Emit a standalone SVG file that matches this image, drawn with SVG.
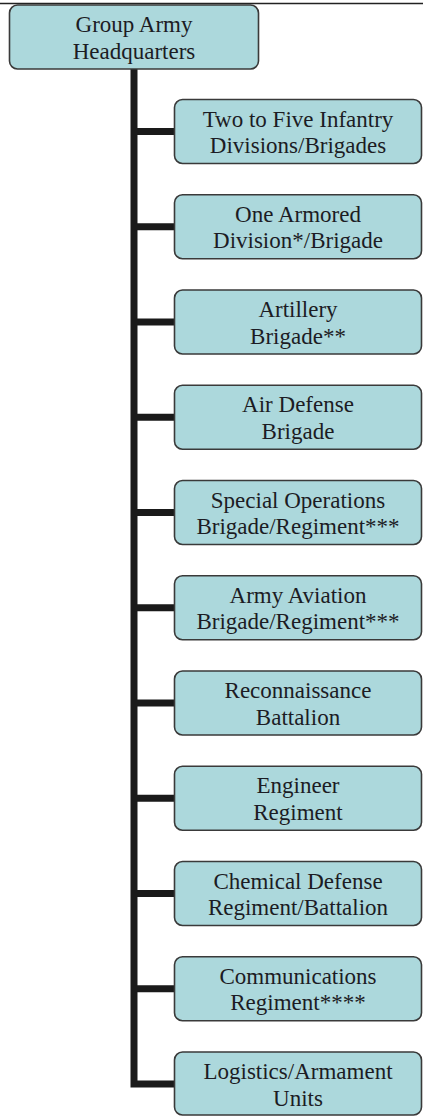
<svg xmlns="http://www.w3.org/2000/svg" width="423" height="1116" viewBox="0 0 423 1116">
<style>
.box{fill:#acd8dc;stroke:#3a3a3a;stroke-width:1.6}
text{font-family:'Liberation Serif','Times New Roman',serif;font-size:23px;fill:#1c1c24;text-anchor:middle}
.c{fill:none;stroke:#1a1a1a;stroke-width:7;stroke-linejoin:miter;stroke-linecap:butt}
</style>
<rect width="423" height="1116" fill="#fff"/>
<line x1="0" y1="3.5" x2="423" y2="3.5" stroke="#222" stroke-width="1.5"/>
<g id="connectors">
<path class="c" d="M134 69V1084H175"/>
<path class="c" d="M134 131.5H175M134 226.75H175M134 322H175M134 417.25H175M134 512.5H175M134 607.75H175M134 703H175M134 798.25H175M134 893.5H175M134 988.75H175"/>
</g>
<g id="root"><rect class="box" x="9.5" y="5" width="249" height="64" rx="8"/><text x="134" y="32">Group Army</text><text x="134" y="59">Headquarters</text></g>
<g id="n1"><rect class="box" x="174.5" y="99.5" width="247" height="64" rx="8"/><text x="298" y="126.5">Two to Five Infantry</text><text x="298" y="153">Divisions/Brigades</text></g>
<g id="n2"><rect class="box" x="174.5" y="194.75" width="247" height="64" rx="8"/><text x="298" y="221.75">One Armored</text><text x="298" y="248.25">Division*/Brigade</text></g>
<g id="n3"><rect class="box" x="174.5" y="290" width="247" height="64" rx="8"/><text x="298" y="317">Artillery</text><text x="298" y="343.5">Brigade**</text></g>
<g id="n4"><rect class="box" x="174.5" y="385.25" width="247" height="64" rx="8"/><text x="298" y="412.25">Air Defense</text><text x="298" y="438.75">Brigade</text></g>
<g id="n5"><rect class="box" x="174.5" y="480.5" width="247" height="64" rx="8"/><text x="298" y="507.5">Special Operations</text><text x="298" y="534">Brigade/Regiment***</text></g>
<g id="n6"><rect class="box" x="174.5" y="575.75" width="247" height="64" rx="8"/><text x="298" y="602.75">Army Aviation</text><text x="298" y="629.25">Brigade/Regiment***</text></g>
<g id="n7"><rect class="box" x="174.5" y="671" width="247" height="64" rx="8"/><text x="298" y="698">Reconnaissance</text><text x="298" y="724.5">Battalion</text></g>
<g id="n8"><rect class="box" x="174.5" y="766.25" width="247" height="64" rx="8"/><text x="298" y="793.25">Engineer</text><text x="298" y="819.75">Regiment</text></g>
<g id="n9"><rect class="box" x="174.5" y="861.5" width="247" height="64" rx="8"/><text x="298" y="888.5">Chemical Defense</text><text x="298" y="915">Regiment/Battalion</text></g>
<g id="n10"><rect class="box" x="174.5" y="956.75" width="247" height="64" rx="8"/><text x="298" y="983.75">Communications</text><text x="298" y="1010.25">Regiment****</text></g>
<g id="n11"><rect class="box" x="174.5" y="1052" width="247" height="63" rx="8"/><text x="298" y="1079">Logistics/Armament</text><text x="298" y="1105.5">Units</text></g>
</svg>
